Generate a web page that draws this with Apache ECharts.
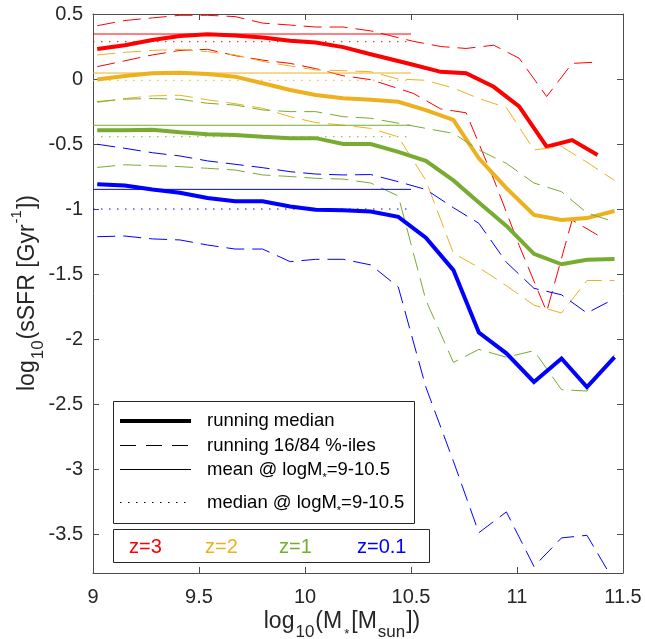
<!DOCTYPE html>
<html><head><meta charset="utf-8">
<script src="https://cdn.jsdelivr.net/npm/echarts@6/dist/echarts.min.js"></script>
<style>html,body{margin:0;padding:0;background:#fff}#c{width:645px;height:639px}</style>
</head><body><div id="c"></div>
<script>
// ---- data ----
const xBins = [9.02, 9.15, 9.28, 9.41, 9.54, 9.67, 9.80, 9.93, 10.05, 10.18, 10.31, 10.44, 10.57, 10.70, 10.82, 10.95, 11.08, 11.21, 11.33, 11.46];
const xBinsZ3 = [9.02, 9.15, 9.28, 9.41, 9.54, 9.67, 9.80, 9.93, 10.05, 10.18, 10.31, 10.51, 10.64, 10.76, 10.89, 11.01, 11.14, 11.26, 11.38];

const z3Median = [0.23, 0.26, 0.30, 0.33, 0.345, 0.335, 0.32, 0.295, 0.28, 0.245, 0.19, 0.11, 0.055, 0.045, -0.06, -0.21, -0.52, -0.47, -0.585];
const z3Upper  = [0.41, 0.45, 0.47, 0.49, 0.49, 0.48, 0.43, 0.415, 0.40, 0.40, 0.37, 0.29, 0.25, 0.235, 0.26, 0.16, -0.135, 0.12, 0.13];
const z3Lower  = [0.095, 0.14, 0.185, 0.22, 0.228, 0.18, 0.145, 0.12, 0.08, 0.025, -0.005, -0.11, -0.23, -0.26, -0.77, -1.28, -1.79, -1.085, -1.2];

const z2Median = [-0.003, 0.023, 0.044, 0.048, 0.038, 0.018, -0.033, -0.085, -0.123, -0.148, -0.16, -0.175, -0.24, -0.315, -0.61, -0.84, -1.045, -1.085, -1.07, -1.015];
const z2Upper  = [0.185, 0.205, 0.22, 0.228, 0.21, 0.185, 0.135, 0.10, 0.07, 0.064, 0.056, 0.0, -0.01, -0.07, -0.15, -0.22, -0.545, -0.52, -0.64, -0.78];
const z2Lower  = [-0.18, -0.15, -0.13, -0.125, -0.16, -0.19, -0.225, -0.29, -0.335, -0.355, -0.38, -0.445, -0.78, -1.34, -1.45, -1.59, -1.74, -1.80, -1.55, -1.55];

const z1Median = [-0.395, -0.395, -0.39, -0.41, -0.425, -0.43, -0.445, -0.455, -0.455, -0.5, -0.5, -0.56, -0.63, -0.78, -0.95, -1.13, -1.345, -1.425, -1.39, -1.385];
const z1Upper  = [-0.174, -0.155, -0.15, -0.156, -0.187, -0.2, -0.238, -0.251, -0.251, -0.29, -0.302, -0.34, -0.38, -0.418, -0.546, -0.649, -0.8, -0.867, -1.03, -1.1];
const z1Lower  = [-0.68, -0.66, -0.667, -0.674, -0.687, -0.7, -0.738, -0.75, -0.764, -0.77, -0.8, -0.9, -1.7, -2.18, -2.08, -2.14, -2.09, -2.39, -2.4, -2.12];

const z0Median = [-0.81, -0.82, -0.85, -0.875, -0.915, -0.94, -0.94, -0.98, -1.005, -1.01, -1.02, -1.06, -1.22, -1.47, -1.95, -2.11, -2.33, -2.15, -2.37, -2.14];
const z0Upper  = [-0.502, -0.533, -0.567, -0.592, -0.63, -0.656, -0.682, -0.713, -0.731, -0.738, -0.735, -0.79, -0.85, -0.99, -1.11, -1.41, -1.61, -1.66, -1.8, -1.69];
const z0Lower  = [-1.213, -1.208, -1.23, -1.238, -1.277, -1.308, -1.308, -1.405, -1.387, -1.387, -1.43, -1.6, -2.37, -2.94, -3.49, -3.33, -3.75, -3.53, -3.51, -3.87];

const redshiftLabels = ['z=3', 'z=2', 'z=1', 'z=0.1'];
const meanVals   = [0.346, 0.046, -0.356, -0.849];
const medianVals = [0.287, -0.01, -0.444, -1.0];
const flatRange  = [9, 10.5];
const xTicks = [9, 9.5, 10, 10.5, 11, 11.5];
const yTicks = [-3.5, -3, -2.5, -2, -1.5, -1, -0.5, 0, 0.5];

// ---- styles ----
const colors = ['#FF0000', '#EDB120', '#77AC30', '#0000FF'];
const FONT = 'Liberation Sans, Arial, Helvetica, sans-serif';
const AX = '#4d4d4d';
const TXT = '#262626';

const groups = [
  {x: xBinsZ3, med: z3Median, up: z3Upper, lo: z3Lower},
  {x: xBins, med: z2Median, up: z2Upper, lo: z2Lower},
  {x: xBins, med: z1Median, up: z1Upper, lo: z1Lower},
  {x: xBins, med: z0Median, up: z0Upper, lo: z0Lower}
];
const pair = (xs, ys) => xs.map((x, i) => [x, ys[i]]);
const lineS = (data, color, width, type) => ({
  type: 'line', data, symbol: 'none', showSymbol: false, silent: true, animation: false,
  clip: true, lineStyle: {color, width, type, cap: 'butt', join: 'miter'}
});

const series = [];
groups.forEach((g, k) => {
  const c = colors[k];
  series.push(lineS(pair(g.x, g.up), c, 1, [18, 8]));
  series.push(lineS(pair(g.x, g.lo), c, 1, [18, 8]));
  series.push(lineS(pair(flatRange, [meanVals[k], meanVals[k]]), c, 1, 'solid'));
  series.push(lineS(pair(flatRange, [medianVals[k], medianVals[k]]), c, 1, [1.5, 6.5]));
  series.push(lineS(pair(g.x, g.med), c, 4, 'solid'));
});

const axisCommon = {
  axisLine: {show: true, onZero: false, lineStyle: {color: AX, width: 1}},
  axisTick: {show: true, inside: true, length: 6, lineStyle: {color: AX, width: 1}},
  splitLine: {show: false}
};
const yLabelFmt = v => String(Math.round(v * 10) / 10);

const legendRows = [
  {y: 421, dash: 'solid', w: 4, text: '{t|running median}'},
  {y: 445.5, dash: [16, 10], w: 1, text: '{t|running 16/84 %-iles}'},
  {y: 469.5, dash: 'solid', w: 1, text: '{t|mean @ logM}{s|*}{t|=9-10.5}'},
  {y: 502.5, dash: [1.5, 6.5], w: 1, text: '{t|median @ logM}{s|*}{t|=9-10.5}'}
];
const zLabelX = [129, 205, 279, 357];

const graphics = [
  {type: 'rect', shape: {x: 113.5, y: 401.5, width: 301, height: 122}, style: {fill: '#fff', stroke: '#262626', lineWidth: 1}, z: 100},
  {type: 'rect', shape: {x: 113.5, y: 529.5, width: 316, height: 33}, style: {fill: '#fff', stroke: '#262626', lineWidth: 1}, z: 100}
];
legendRows.forEach(r => {
  graphics.push({type: 'line', shape: {x1: 120, y1: r.y, x2: 191, y2: r.y},
    style: {stroke: '#000', lineWidth: r.w, lineDash: r.dash === 'solid' ? null : r.dash, lineCap: 'butt'}, z: 101});
  graphics.push({type: 'text', x: 207, y: Math.round(r.y), z: 101, style: {
    text: r.text, align: 'left', verticalAlign: 'middle', textAlign: 'left', textVerticalAlign: 'middle',
    rich: {t: {fontSize: 18.5, fontFamily: FONT, fill: '#000', color: '#000', lineHeight: 26},
           s: {fontSize: 11, fontFamily: FONT, fill: '#000', color: '#000', verticalAlign: 'bottom'}}
  }});
});
redshiftLabels.forEach((lab, k) => {
  graphics.push({type: 'text', x: zLabelX[k], y: 547, z: 101, style: {
    text: lab, fill: colors[k], font: '20px ' + FONT, align: 'left', verticalAlign: 'middle',
    textAlign: 'left', textVerticalAlign: 'middle'}});
});
const titleRich = {
  m: {fontSize: 23, fontFamily: FONT, fill: TXT, color: TXT, lineHeight: 38},
  s: {fontSize: 17, fontFamily: FONT, fill: TXT, color: TXT, verticalAlign: 'bottom', padding: [0, 1, 0, 1]},
  p: {fontSize: 15, fontFamily: FONT, fill: TXT, color: TXT, verticalAlign: 'top', padding: [0, 1, 0, 1]},
  k: {fontSize: 13, fontFamily: FONT, fill: TXT, color: TXT, verticalAlign: 'bottom', padding: [0, 2, 0, 2]}
};
graphics.push({type: 'text', x: 342, y: 622, z: 101, style: {
  text: '{m|log}{s|10}{m|(M}{k|*}{m|[M}{s|sun}{m|])}', rich: titleRich,
  align: 'center', verticalAlign: 'middle', textAlign: 'center', textVerticalAlign: 'middle'}});
graphics.push({type: 'text', x: 28, y: 293, rotation: Math.PI / 2, z: 101, style: {
  text: '{m|log}{s|10}{m|(sSFR [Gyr}{p|-1}{m|])}', rich: titleRich,
  align: 'center', verticalAlign: 'middle', textAlign: 'center', textVerticalAlign: 'middle'}});

const chart = echarts.init(document.getElementById('c'), null, {renderer: 'canvas'});
chart.setOption({
  backgroundColor: '#fff',
  animation: false,
  grid: {left: 93, right: 22, top: 14, bottom: 66, containLabel: false, outerBoundsMode: 'none'},
  xAxis: [
    Object.assign({type: 'value', min: xTicks[0], max: xTicks[xTicks.length - 1], interval: 0.5, position: 'bottom',
      axisLabel: {show: true, fontSize: 20, color: TXT, fontFamily: FONT, margin: 14, showMinLabel: true, showMaxLabel: true,
        formatter: v => String(v)}}, axisCommon),
    Object.assign({type: 'value', min: xTicks[0], max: xTicks[xTicks.length - 1], interval: 0.5, position: 'top',
      axisLabel: {show: false}}, axisCommon)
  ],
  yAxis: [
    Object.assign({type: 'value', min: -3.8, max: 0.5, position: 'left',
      axisLabel: {show: true, fontSize: 20, color: TXT, fontFamily: FONT, margin: 10, customValues: yTicks, formatter: yLabelFmt}},
      axisCommon, {axisTick: Object.assign({}, axisCommon.axisTick, {customValues: yTicks})}),
    Object.assign({type: 'value', min: -3.8, max: 0.5, position: 'right',
      axisLabel: {show: false, customValues: yTicks}},
      axisCommon, {axisTick: Object.assign({}, axisCommon.axisTick, {customValues: yTicks})})
  ],
  series: series,
  graphic: {elements: graphics}
});
</script>
</body></html>
